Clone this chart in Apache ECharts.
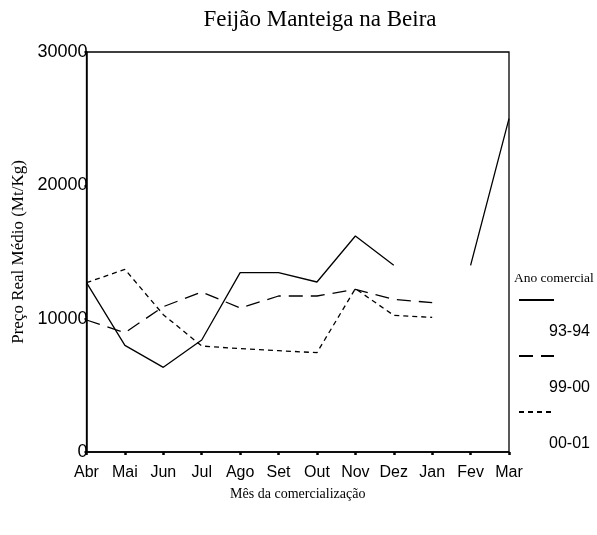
<!DOCTYPE html>
<html>
<head>
<meta charset="utf-8">
<script src="https://cdn.jsdelivr.net/npm/echarts@6/dist/echarts.min.js"></script>
<style>
html, body { margin: 0; padding: 0; background: #fff; }
#box { width: 597px; height: 535px; }
</style>
</head>
<body>
<div id="box"></div>
<script>
// dados
var meses = ['Abr', 'Mai', 'Jun', 'Jul', 'Ago', 'Set', 'Out', 'Nov', 'Dez', 'Jan', 'Fev', 'Mar'];
var anos = ['93-94', '99-00', '00-01'];
var ano9394 = [12700, 8000, 6350, 8400, 13450, 13450, 12750, 16200, 14000, null, 14000, 25000];
var ano9900 = [9900, 8950, 10900, 12000, 10800, 11700, 11700, 12200, 11450, 11200, null, null];
var ano0001 = [12700, 13700, 10300, 7950, 7750, 7600, 7450, 12250, 10250, 10100, null, null];
var yTicks = [0, 10000, 20000, 30000];

var serif = 'Liberation Serif';
var sans = 'Liberation Sans';

var myChart = echarts.init(document.getElementById('box'));

function linha(nome, dados, tipo) {
    return {
        name: nome,
        type: 'line',
        data: dados,
        symbol: 'none',
        connectNulls: false,
        animation: false,
        lineStyle: { color: '#000', width: 1.3, type: tipo },
        itemStyle: { color: '#000' }
    };
}

var option = {
    backgroundColor: '#fff',
    title: [{
        text: 'Feijão Manteiga na Beira',
        left: 315,
        textAlign: 'center',
        top: 3,
        textStyle: { fontFamily: serif, fontSize: 23, fontWeight: 'normal', color: '#000' }
    }, {
        text: 'Ano comercial',
        left: 514,
        top: 271,
        padding: 0,
        textStyle: { fontFamily: serif, fontSize: 13.5, fontWeight: 'normal', color: '#000' }
    }],
    legend: {
        orient: 'vertical',
        left: 518,
        top: 260,
        padding: 0,
        itemWidth: 35,
        itemHeight: 4,
        itemGap: -24,
        data: anos,
        itemStyle: { color: 'rgba(0,0,0,0)', borderWidth: 0 },
        formatter: function (name) { return '{n|' + name + '}'; },
        textStyle: {
            rich: {
                n: { fontFamily: sans, fontSize: 16, color: '#000', lineHeight: 18, padding: [64, 0, 0, -10] }
            }
        }
    },
    grid: {
        left: 86.5,
        right: 88,
        top: 52,
        bottom: 83,
        show: true,
        borderColor: '#000',
        borderWidth: 1.3
    },
    xAxis: {
        type: 'category',
        boundaryGap: false,
        data: meses,
        name: 'Mês da comercialização',
        nameLocation: 'middle',
        nameGap: 35,
        nameTextStyle: { fontFamily: serif, fontSize: 14, color: '#000' },
        axisLine: { lineStyle: { color: '#000', width: 1.5 } },
        axisTick: { length: 3, lineStyle: { color: '#000', width: 2.5 } },
        axisLabel: { fontFamily: sans, fontSize: 16, color: '#000', margin: 13, interval: 0 },
        splitLine: { show: false }
    },
    yAxis: {
        type: 'value',
        min: yTicks[0],
        max: yTicks[yTicks.length - 1],
        interval: yTicks[1] - yTicks[0],
        name: 'Preço Real Médio (Mt/Kg)',
        nameLocation: 'middle',
        nameGap: 58,
        nameTextStyle: { fontFamily: serif, fontSize: 17, color: '#000' },
        axisLine: { show: true, lineStyle: { color: '#000', width: 1.5 } },
        axisTick: { show: true, length: 2, lineStyle: { color: '#000', width: 2 } },
        axisLabel: {
            fontFamily: sans, fontSize: 18, color: '#000', margin: -1,
            formatter: function (v) { return String(v); }
        },
        splitLine: { show: false }
    },
    series: [
        linha(anos[0], ano9394, 'solid'),
        linha(anos[1], ano9900, [14, 8]),
        linha(anos[2], ano0001, [5, 4])
    ]
};

myChart.setOption(option);
</script>
</body>
</html>
